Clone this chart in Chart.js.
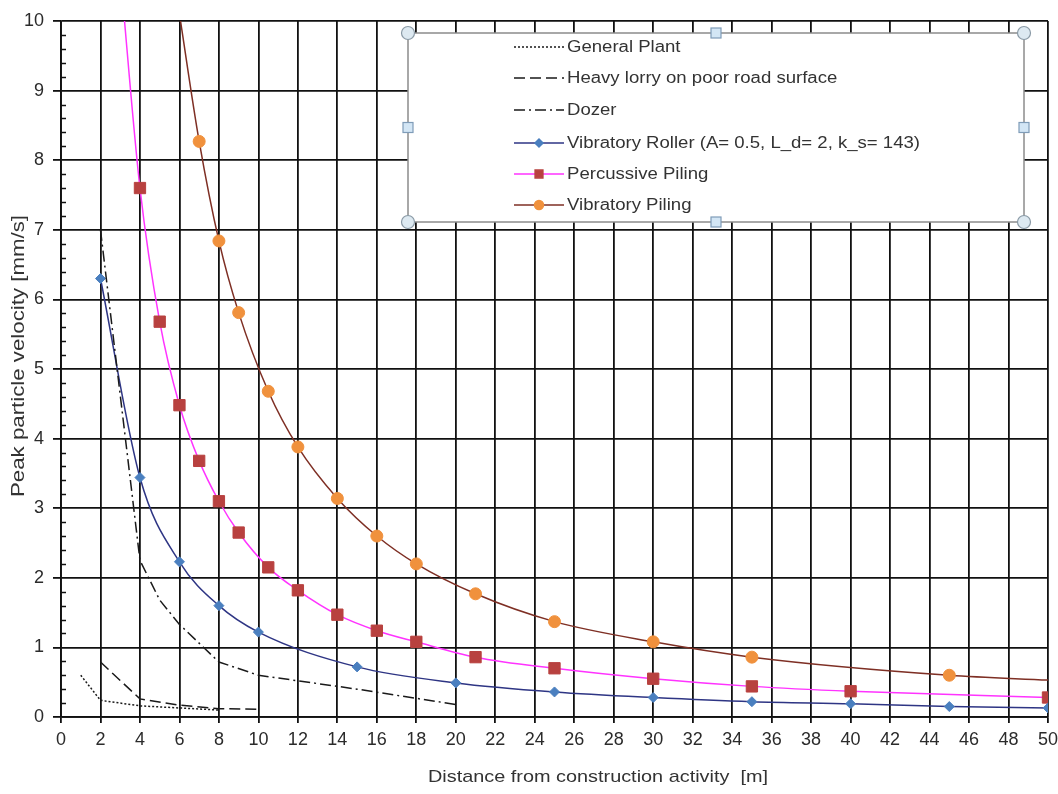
<!DOCTYPE html>
<html>
<head>
<meta charset="utf-8">
<title>Peak particle velocity vs distance</title>
<script src="https://cdn.jsdelivr.net/npm/chart.js@4.4.0/dist/chart.umd.min.js"></script>
<style>
  body { margin: 0; background: #fff; }
  #wrap { width: 1058px; height: 794px; }
</style>
</head>
<body>
<div id="wrap"><canvas id="ppvChart" width="1058" height="794"></canvas></div>
<script>
// distance from activity [m] / peak particle velocity [mm/s]
var plantX = [1, 2, 4, 6, 8];
var plantY = [0.6, 0.24, 0.16, 0.13, 0.1];

var lorryX = [2, 4, 6, 8, 10];
var lorryY = [0.79, 0.26, 0.17, 0.12, 0.11];

var dozerX = [2, 4, 5, 6, 8, 10, 15, 20];
var dozerY = [7.0, 2.25, 1.68, 1.33, 0.79, 0.6, 0.4, 0.18];

var rollerX = [2, 4, 6, 8, 10, 15, 20, 25, 30, 35, 40, 45, 50];
var rollerY = [6.3, 3.44, 2.23, 1.6, 1.22, 0.72, 0.49, 0.36, 0.28, 0.22, 0.19, 0.15, 0.13];

var percX = [3, 4, 5, 6, 7, 8, 9, 10.5, 12, 14, 16, 18, 21, 25, 30, 35, 40, 50];
var percY = [10.7, 7.6, 5.68, 4.48, 3.68, 3.1, 2.65, 2.15, 1.82, 1.47, 1.24, 1.08, 0.86, 0.7, 0.55, 0.44, 0.37, 0.28];

var vibX = [6, 7, 8, 9, 10.5, 12, 14, 16, 18, 21, 25, 30, 35, 45, 50];
var vibY = [10.1, 8.27, 6.84, 5.81, 4.68, 3.88, 3.14, 2.6, 2.2, 1.77, 1.37, 1.08, 0.86, 0.6, 0.53];

var seriesNames = [
    'General Plant',
    'Heavy lorry on poor road surface',
    'Dozer',
    'Vibratory Roller (A= 0.5, L_d= 2, k_s= 143)',
    'Percussive Piling',
    'Vibratory Piling'
];

var xTitle = 'Distance from construction activity  [m]';
var yTitle = 'Peak particle velocity [mm/s]';

function pairs(xs, ys) {
    return xs.map(function (x, i) { return { x: x, y: ys[i] }; });
}

// no marker on points that run past the top of the axis or on the bare line end
function markerSize(size, lastX) {
    return function (c) {
        if (!c.raw) return size;
        if (c.raw.y > 10 || c.raw.x === lastX) return 0;
        return size;
    };
}

var FONT = '"Liberation Sans", Arial, sans-serif';

// draw text widened/narrowed along its baseline to a given length
function fittedText(ctx, text, x, y, width, align) {
    var w = ctx.measureText(text).width;
    var k = width / w;
    ctx.save();
    ctx.translate(x, y);
    ctx.scale(k, 1);
    ctx.textAlign = align;
    ctx.fillText(text, 0, 0);
    ctx.restore();
}

// thin inside ticks every 0.2 on the value axis
var minorTicks = {
    id: 'minorTicks',
    afterDatasetsDraw: function (chart) {
        var ctx = chart.ctx, y = chart.scales.y, left = chart.chartArea.left;
        ctx.save();
        ctx.strokeStyle = '#111';
        ctx.lineWidth = 1.5;
        for (var v = 0.2; v < 10; v += 0.2) {
            if (Math.abs(v - Math.round(v)) < 0.01) continue;
            var py = Math.round(y.getPixelForValue(v)) + 0.5;
            ctx.beginPath();
            ctx.moveTo(left, py);
            ctx.lineTo(left + 5, py);
            ctx.stroke();
        }
        ctx.restore();
    }
};

// axis titles
var axisTitles = {
    id: 'axisTitles',
    afterDraw: function (chart) {
        var ctx = chart.ctx;
        ctx.save();
        ctx.fillStyle = '#333';
        ctx.textBaseline = 'middle';
        ctx.font = '17px ' + FONT;
        fittedText(ctx, xTitle, 598, 777, 340, 'center');
        ctx.translate(19, 356);
        ctx.rotate(-Math.PI / 2);
        ctx.font = '18px ' + FONT;
        fittedText(ctx, yTitle, 0, 0, 282, 'center');
        ctx.restore();
    }
};

// boxed legend sitting inside the plot, with selection handles on the frame
var boxLegend = {
    id: 'boxLegend',
    afterDraw: function (chart) {
        var ctx = chart.ctx;
        var L = 408, T = 33, R = 1024, B = 222;
        ctx.save();
        ctx.fillStyle = '#fff';
        ctx.fillRect(L, T, R - L, B - T);
        ctx.strokeStyle = '#8c8c8c';
        ctx.lineWidth = 1.5;
        ctx.strokeRect(L, T, R - L, B - T);

        ctx.font = '16px ' + FONT;
        var stretch = 353 / ctx.measureText(seriesNames[3]).width;
        var rowY = [47, 78, 110, 143, 174, 205];
        chart.data.datasets.forEach(function (ds, i) {
            var y = rowY[i];
            ctx.save();
            ctx.strokeStyle = ds.borderColor;
            ctx.lineWidth = ds.borderWidth;
            ctx.setLineDash(ds.borderDash || []);
            ctx.beginPath();
            ctx.moveTo(514, y);
            ctx.lineTo(564, y);
            ctx.stroke();
            ctx.restore();
            if (ds.legendMarker) {
                ctx.save();
                ctx.fillStyle = ds.pointBackgroundColor;
                ctx.strokeStyle = ds.pointBorderColor;
                Chart.helpers.drawPoint(ctx, {
                    pointStyle: ds.pointStyle, radius: ds.legendMarker,
                    rotation: 0, borderWidth: 1
                }, 539, y);
                ctx.restore();
            }
            ctx.fillStyle = '#333';
            ctx.textBaseline = 'middle';
            var w = ctx.measureText(ds.label).width * stretch;
            fittedText(ctx, ds.label, 567, y + 1, w, 'left');
        });

        // handles: circles at the corners, squares at the edge midpoints
        var mx = (L + R) / 2, my = (T + B) / 2;
        [[L, T], [R, T], [L, B], [R, B]].forEach(function (p) {
            ctx.beginPath();
            ctx.arc(p[0], p[1], 6.5, 0, Math.PI * 2);
            ctx.fillStyle = '#dde9f1';
            ctx.fill();
            ctx.strokeStyle = '#8a9aa6';
            ctx.lineWidth = 1.2;
            ctx.stroke();
        });
        [[mx, T], [mx, B], [L, my], [R, my]].forEach(function (p) {
            ctx.fillStyle = '#d3e6f5';
            ctx.fillRect(p[0] - 5, p[1] - 5, 10, 10);
            ctx.strokeStyle = '#7f9cb8';
            ctx.lineWidth = 1.2;
            ctx.strokeRect(p[0] - 5, p[1] - 5, 10, 10);
        });
        ctx.restore();
    }
};

var black = '#111';

var chart = new Chart(document.getElementById('ppvChart').getContext('2d'), {
    type: 'scatter',
    data: {
        datasets: [{
            label: seriesNames[0],
            data: pairs(plantX, plantY),
            showLine: true,
            borderColor: '#1a1a1a',
            borderWidth: 1.5,
            borderDash: [2, 2],
            pointRadius: 0,
            tension: 0
        }, {
            label: seriesNames[1],
            data: pairs(lorryX, lorryY),
            showLine: true,
            borderColor: '#1a1a1a',
            borderWidth: 1.5,
            borderDash: [11, 5],
            pointRadius: 0,
            tension: 0
        }, {
            label: seriesNames[2],
            data: pairs(dozerX, dozerY),
            showLine: true,
            borderColor: '#1a1a1a',
            borderWidth: 1.5,
            borderDash: [11, 4, 2, 4],
            pointRadius: 0,
            tension: 0
        }, {
            label: seriesNames[3],
            data: pairs(rollerX, rollerY),
            showLine: true,
            borderColor: '#2e3584',
            borderWidth: 1.5,
            cubicInterpolationMode: 'monotone',
            pointStyle: 'rectRot',
            pointRadius: 5,
            pointBackgroundColor: '#4a7fbf',
            pointBorderColor: '#4a7fbf',
            pointBorderWidth: 1,
            legendMarker: 4
        }, {
            label: seriesNames[4],
            data: pairs(percX, percY),
            showLine: true,
            borderColor: '#ff33ff',
            borderWidth: 1.5,
            cubicInterpolationMode: 'monotone',
            pointStyle: 'rect',
            pointRadius: markerSize(8, null),
            pointBackgroundColor: '#b8413f',
            pointBorderColor: '#b8413f',
            pointBorderWidth: 1,
            legendMarker: 5.5
        }, {
            label: seriesNames[5],
            data: pairs(vibX, vibY),
            showLine: true,
            borderColor: '#7e2f24',
            borderWidth: 1.5,
            cubicInterpolationMode: 'monotone',
            pointStyle: 'circle',
            pointRadius: markerSize(6, 50),
            pointBackgroundColor: '#f0913d',
            pointBorderColor: '#f0913d',
            pointBorderWidth: 1,
            legendMarker: 4.5
        }]
    },
    options: {
        responsive: false,
        animation: false,
        devicePixelRatio: 1,
        layout: { padding: { top: 21, right: 10, left: 0, bottom: 0 } },
        plugins: {
            legend: { display: false },
            tooltip: { enabled: false }
        },
        scales: {
            x: {
                type: 'linear',
                min: 0,
                max: 50,
                afterFit: function (s) {
                    s.height = 77;
                    s.paddingRight = 0;
                    s.paddingLeft = 0;
                },
                ticks: {
                    stepSize: 2,
                    autoSkip: false,
                    maxRotation: 0,
                    color: '#2b2b2b',
                    padding: 6,
                    font: { family: FONT, size: 18 }
                },
                grid: { color: black, lineWidth: 1.8, tickLength: 6, tickColor: black },
                border: { color: black, width: 1.8 }
            },
            y: {
                type: 'linear',
                min: 0,
                max: 10,
                afterFit: function (s) { s.width = 61; },
                ticks: {
                    stepSize: 1,
                    autoSkip: false,
                    color: '#2b2b2b',
                    padding: 9,
                    font: { family: FONT, size: 18 }
                },
                grid: { color: black, lineWidth: 1.8, tickLength: 8, tickColor: black },
                border: { color: black, width: 1.8 }
            }
        }
    },
    plugins: [minorTicks, boxLegend, axisTitles]
});
</script>
</body>
</html>
